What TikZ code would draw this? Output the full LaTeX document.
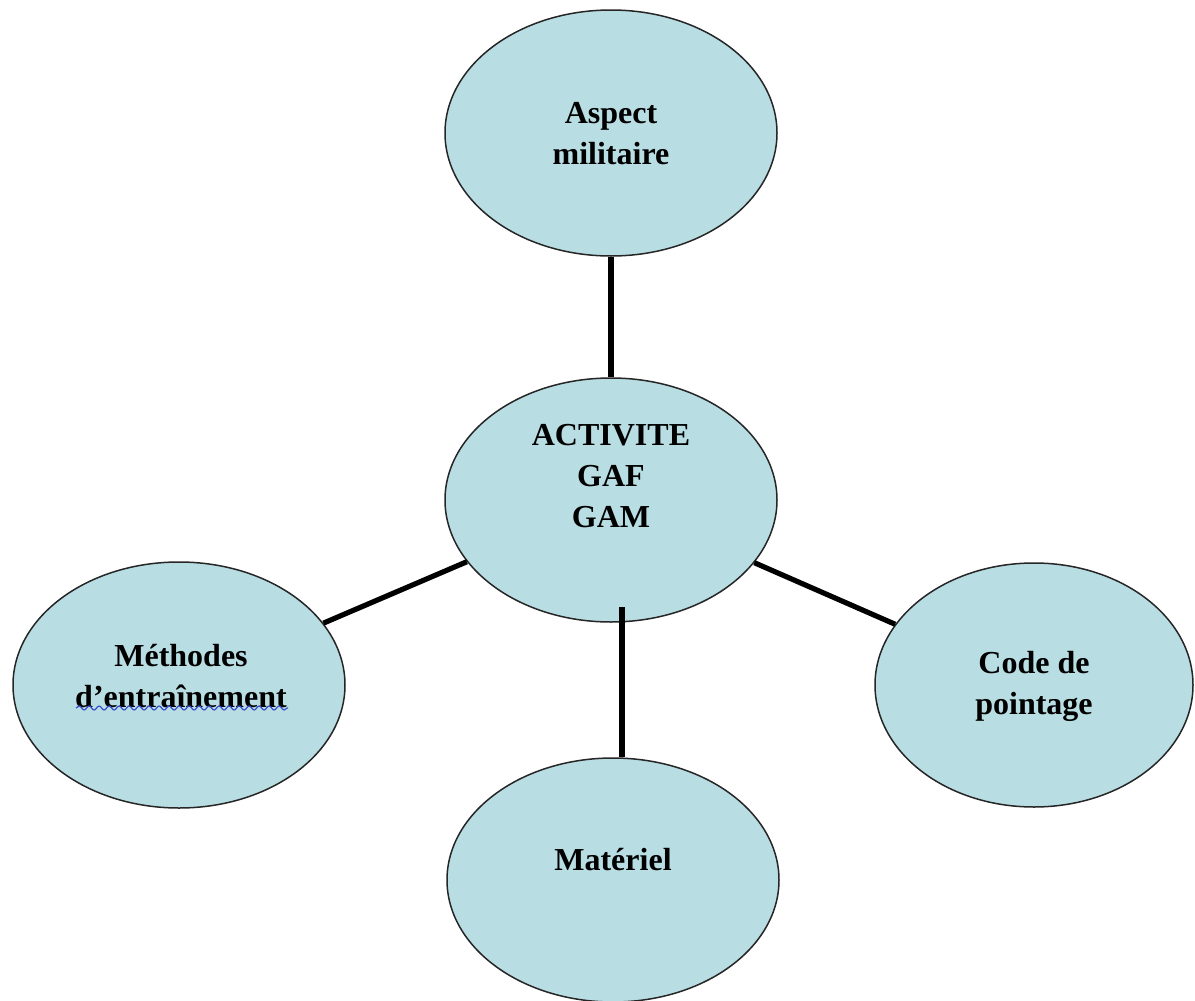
\documentclass[tikz,border=0pt]{standalone}
\usepackage{fontspec}
\setmainfont{Liberation Serif}
\usetikzlibrary{shapes.geometric,decorations.pathmorphing}
\definecolor{bubble}{HTML}{B8DDE3}
\definecolor{spellblue}{HTML}{3A50D0}
\begin{document}
\begin{tikzpicture}[x=0.5pt,y=-0.5pt,
  bubblebox/.style={ellipse,draw=black!85,line width=0.75pt,fill=bubble,inner sep=0pt},
  bubbletext/.style={align=center,font=\bfseries\fontsize{16}{20.5}\selectfont,inner sep=0pt},
  link/.style={line width=2.6pt,black}]
\useasboundingbox (0,0) rectangle (1195,1001);
% ellipses
\node[bubblebox,minimum width=166pt,minimum height=123pt] (top) at (611,133) {};
\node[bubblebox,minimum width=166pt,minimum height=122pt] (ctr) at (611,500) {};
\node[bubblebox,minimum width=166pt,minimum height=123pt] (lft) at (179,685) {};
\node[bubblebox,minimum width=159pt,minimum height=122pt] (rgt) at (1034,685) {};
\node[bubblebox,minimum width=166pt,minimum height=122pt] (bot) at (613,880) {};
% connectors
\draw[link] (top) -- (ctr);
\draw[link] (ctr) -- (lft);
\draw[link] (ctr) -- (rgt);
\coordinate (botstart) at (622,607);
\draw[link] (botstart) -- (botstart |- bot.north);
% texts
\node[bubbletext] (toptext) at (611,134) {Aspect\\militaire};
\node[bubbletext] (ctrtext) at (611,476) {ACTIVITE\\GAF\\GAM};
\node[bubbletext] (lfttext) at (181,676) {Méthodes\\d’entraînement};
\node[bubbletext] (rgttext) at (1034,686) {Code de\\pointage};
\node[bubbletext] (bottext) at (613,860) {Matériel};
% spell-check underline
\coordinate (wavyA) at (76,708);
\coordinate (wavyB) at (288,708);
\draw[spellblue,line width=0.6pt,decorate,decoration={snake,segment length=5pt,amplitude=1pt}] (wavyA) -- (wavyB);
\end{tikzpicture}
\end{document}
